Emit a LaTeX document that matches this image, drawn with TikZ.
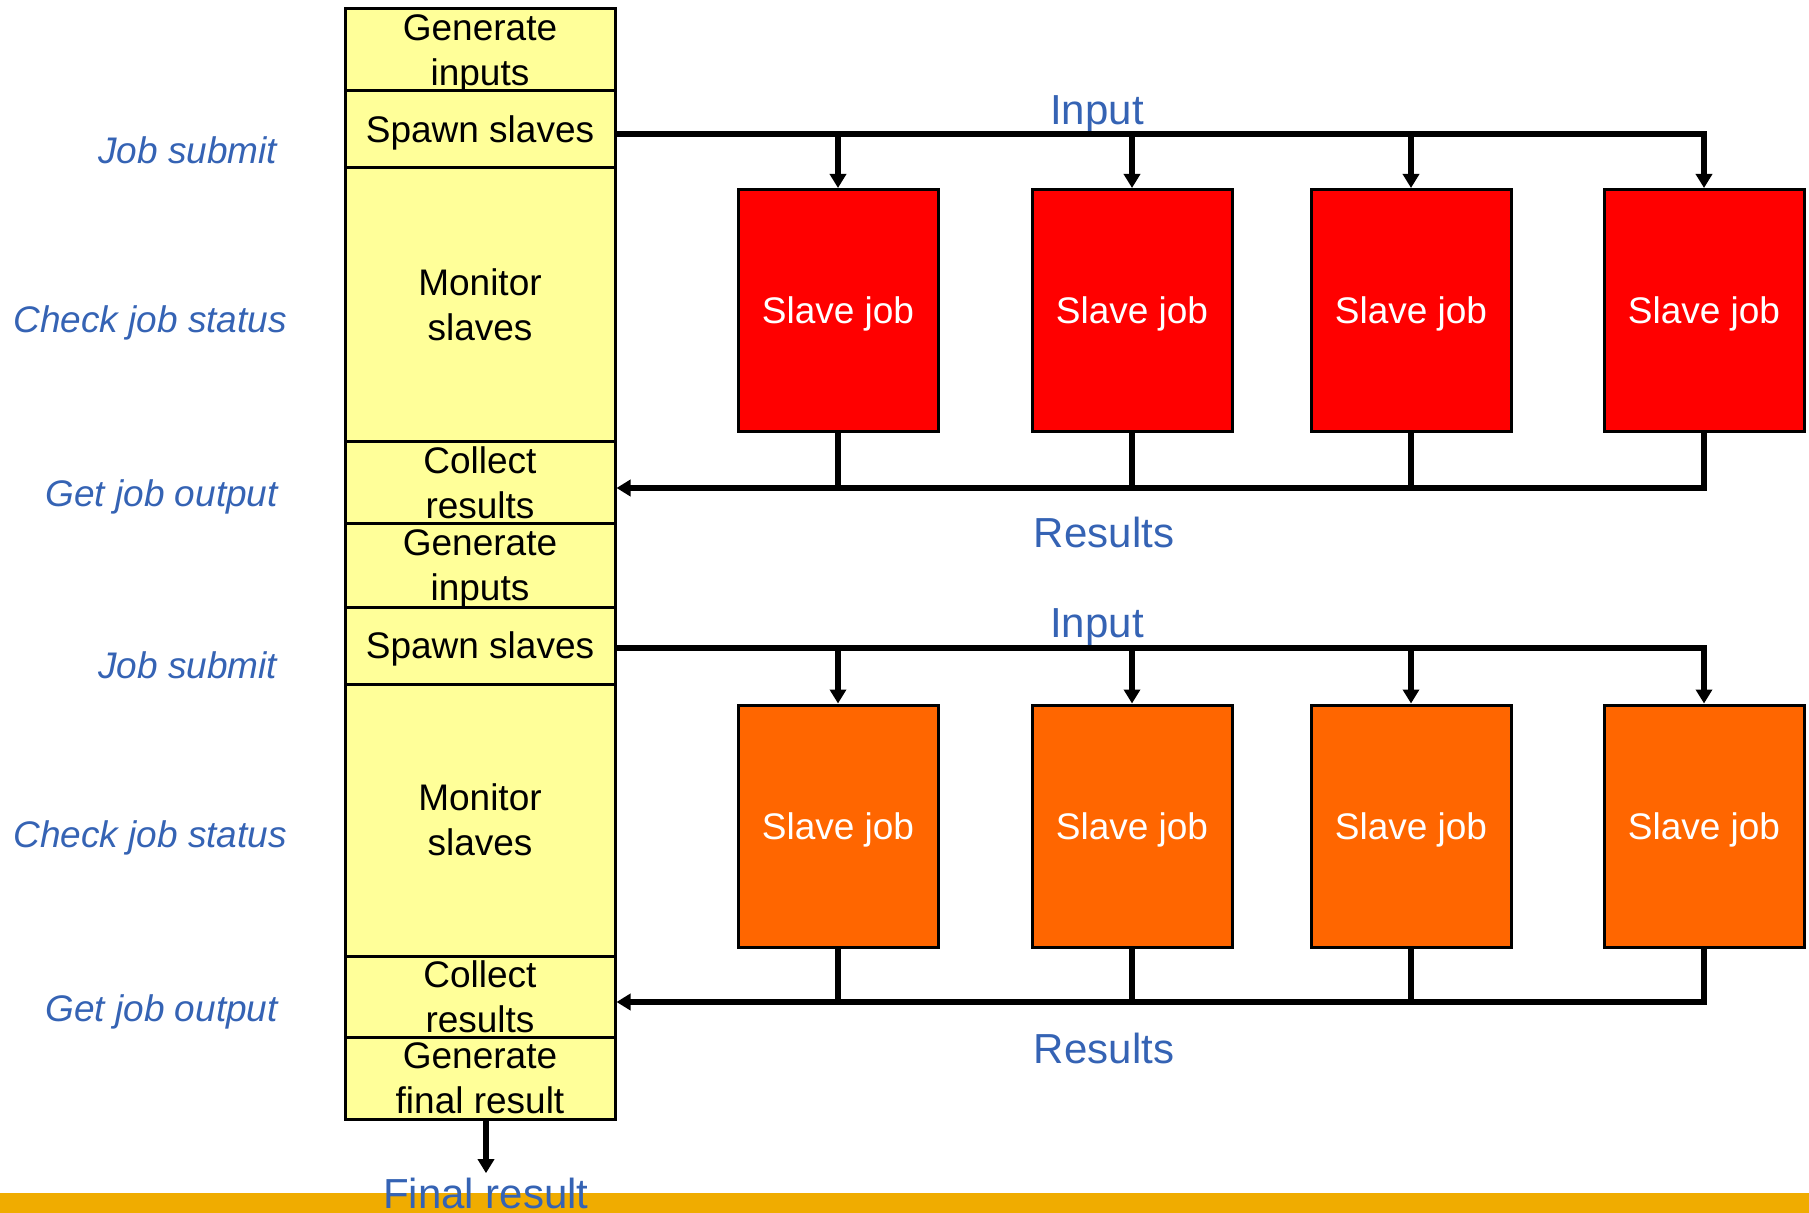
\documentclass[tikz,border=0pt]{standalone}
\usepackage{fontspec}
\setmainfont{Liberation Sans}
\usetikzlibrary{arrows.meta}

\definecolor{colfill}{HTML}{FFFF99}
\definecolor{slavered}{HTML}{FF0000}
\definecolor{slaveorange}{HTML}{FF6600}
\definecolor{labelblue}{HTML}{3563B4}
\definecolor{barcol}{HTML}{F0AC00}

\newcommand{\bodyfont}{\fontsize{18.5}{22.5}\selectfont}
\newcommand{\bigfont}{\fontsize{21}{25}\selectfont}

\begin{document}
\begin{tikzpicture}[x=0.5pt, y=-0.5pt,
  cell/.style={draw=black, line width=1.5pt, fill=colfill, minimum width=135pt,
    inner sep=0pt, text depth=0pt, align=center, font=\bodyfont},
  slavebox/.style={draw=black, line width=1.5pt, minimum width=100pt,
    minimum height=121pt, inner sep=0pt, text depth=0pt, text=white, font=\bodyfont},
  wire/.style={line width=2.6pt},
  conn/.style={line width=2.6pt, -{Triangle[width=8pt,length=7pt]}},
  phase/.style={anchor=base west, text=labelblue, inner sep=0pt, font=\bodyfont\itshape},
  flow/.style={anchor=base, text=labelblue, inner sep=0pt, font=\bigfont},
]
\useasboundingbox (0,0) rectangle (1809,1213);

% bottom band
\fill[barcol] (0,1193) rectangle (1809,1213);

% master column
\node[cell, minimum height=41pt]   (gi1) at (480,50)    {Generate\\inputs};
\node[cell, minimum height=38.5pt] (sp1) at (480,129.5) {Spawn slaves};
\node[cell, minimum height=137pt]  (mo1) at (480,305)   {Monitor\\slaves};
\node[cell, minimum height=41pt]   (co1) at (480,483)   {Collect\\results};
\node[cell, minimum height=41.5pt] (gi2) at (480,565.5) {Generate\\inputs};
\node[cell, minimum height=38.5pt] (sp2) at (480,645.5) {Spawn slaves};
\node[cell, minimum height=136pt]  (mo2) at (480,820)   {Monitor\\slaves};
\node[cell, minimum height=40.5pt] (co2) at (480,996.5) {Collect\\results};
\node[cell, minimum height=41pt]   (gf)  at (480,1078)  {Generate\\final result};

% phase labels
\node[phase] (js1) at (98,164)  {Job submit};
\node[phase] (cs1) at (13,333)  {Check job status};
\node[phase] (go1) at (45,507)  {Get job output};
\node[phase] (js2) at (98,678)  {Job submit};
\node[phase] (cs2) at (13,847)  {Check job status};
\node[phase] (go2) at (45,1021) {Get job output};

% first wave of slave jobs
\node[slavebox, fill=slavered] (a1) at (838,310.5)  {Slave job};
\node[slavebox, fill=slavered] (a2) at (1132,310.5) {Slave job};
\node[slavebox, fill=slavered] (a3) at (1411,310.5) {Slave job};
\node[slavebox, fill=slavered] (a4) at (1704,310.5) {Slave job};

% second wave of slave jobs
\node[slavebox, fill=slaveorange] (b1) at (838,826)  {Slave job};
\node[slavebox, fill=slaveorange] (b2) at (1132,826) {Slave job};
\node[slavebox, fill=slaveorange] (b3) at (1411,826) {Slave job};
\node[slavebox, fill=slaveorange] (b4) at (1704,826) {Slave job};

% bus levels
\coordinate (in1)  at (1704,134);
\coordinate (res1) at (1704,488);
\coordinate (in2)  at (1704,648);
\coordinate (res2) at (1704,1002);

% bus labels
\node[flow] (lin1)  at (1097,125)  {Input};
\node[flow] (lres1) at (1104,547)  {Results};
\node[flow] (lin2)  at (1097,637)  {Input};
\node[flow] (lres2) at (1104,1063) {Results};

% input distribution, first wave
\draw[conn, line join=miter] (sp1.east |- in1) -- (a4.north |- in1) -- (a4.north);
\draw[conn] (a1.north |- in1) -- (a1.north);
\draw[conn] (a2.north |- in1) -- (a2.north);
\draw[conn] (a3.north |- in1) -- (a3.north);

% result collection, first wave
\draw[conn, line join=miter] (a4.south) -- (a4.south |- res1) -- (co1.east |- res1);
\draw[wire] (a1.south) -- (a1.south |- res1);
\draw[wire] (a2.south) -- (a2.south |- res1);
\draw[wire] (a3.south) -- (a3.south |- res1);

% input distribution, second wave
\draw[conn, line join=miter] (sp2.east |- in2) -- (b4.north |- in2) -- (b4.north);
\draw[conn] (b1.north |- in2) -- (b1.north);
\draw[conn] (b2.north |- in2) -- (b2.north);
\draw[conn] (b3.north |- in2) -- (b3.north);

% result collection, second wave
\draw[conn, line join=miter] (b4.south) -- (b4.south |- res2) -- (co2.east |- res2);
\draw[wire] (b1.south) -- (b1.south |- res2);
\draw[wire] (b2.south) -- (b2.south |- res2);
\draw[wire] (b3.south) -- (b3.south |- res2);

% final output
\node[flow, font=\bigfont, inner sep=2pt] (fin) at (486,1208) {Final result};
\draw[conn] (gf.south -| fin) -- (fin.north);
\end{tikzpicture}
\end{document}
